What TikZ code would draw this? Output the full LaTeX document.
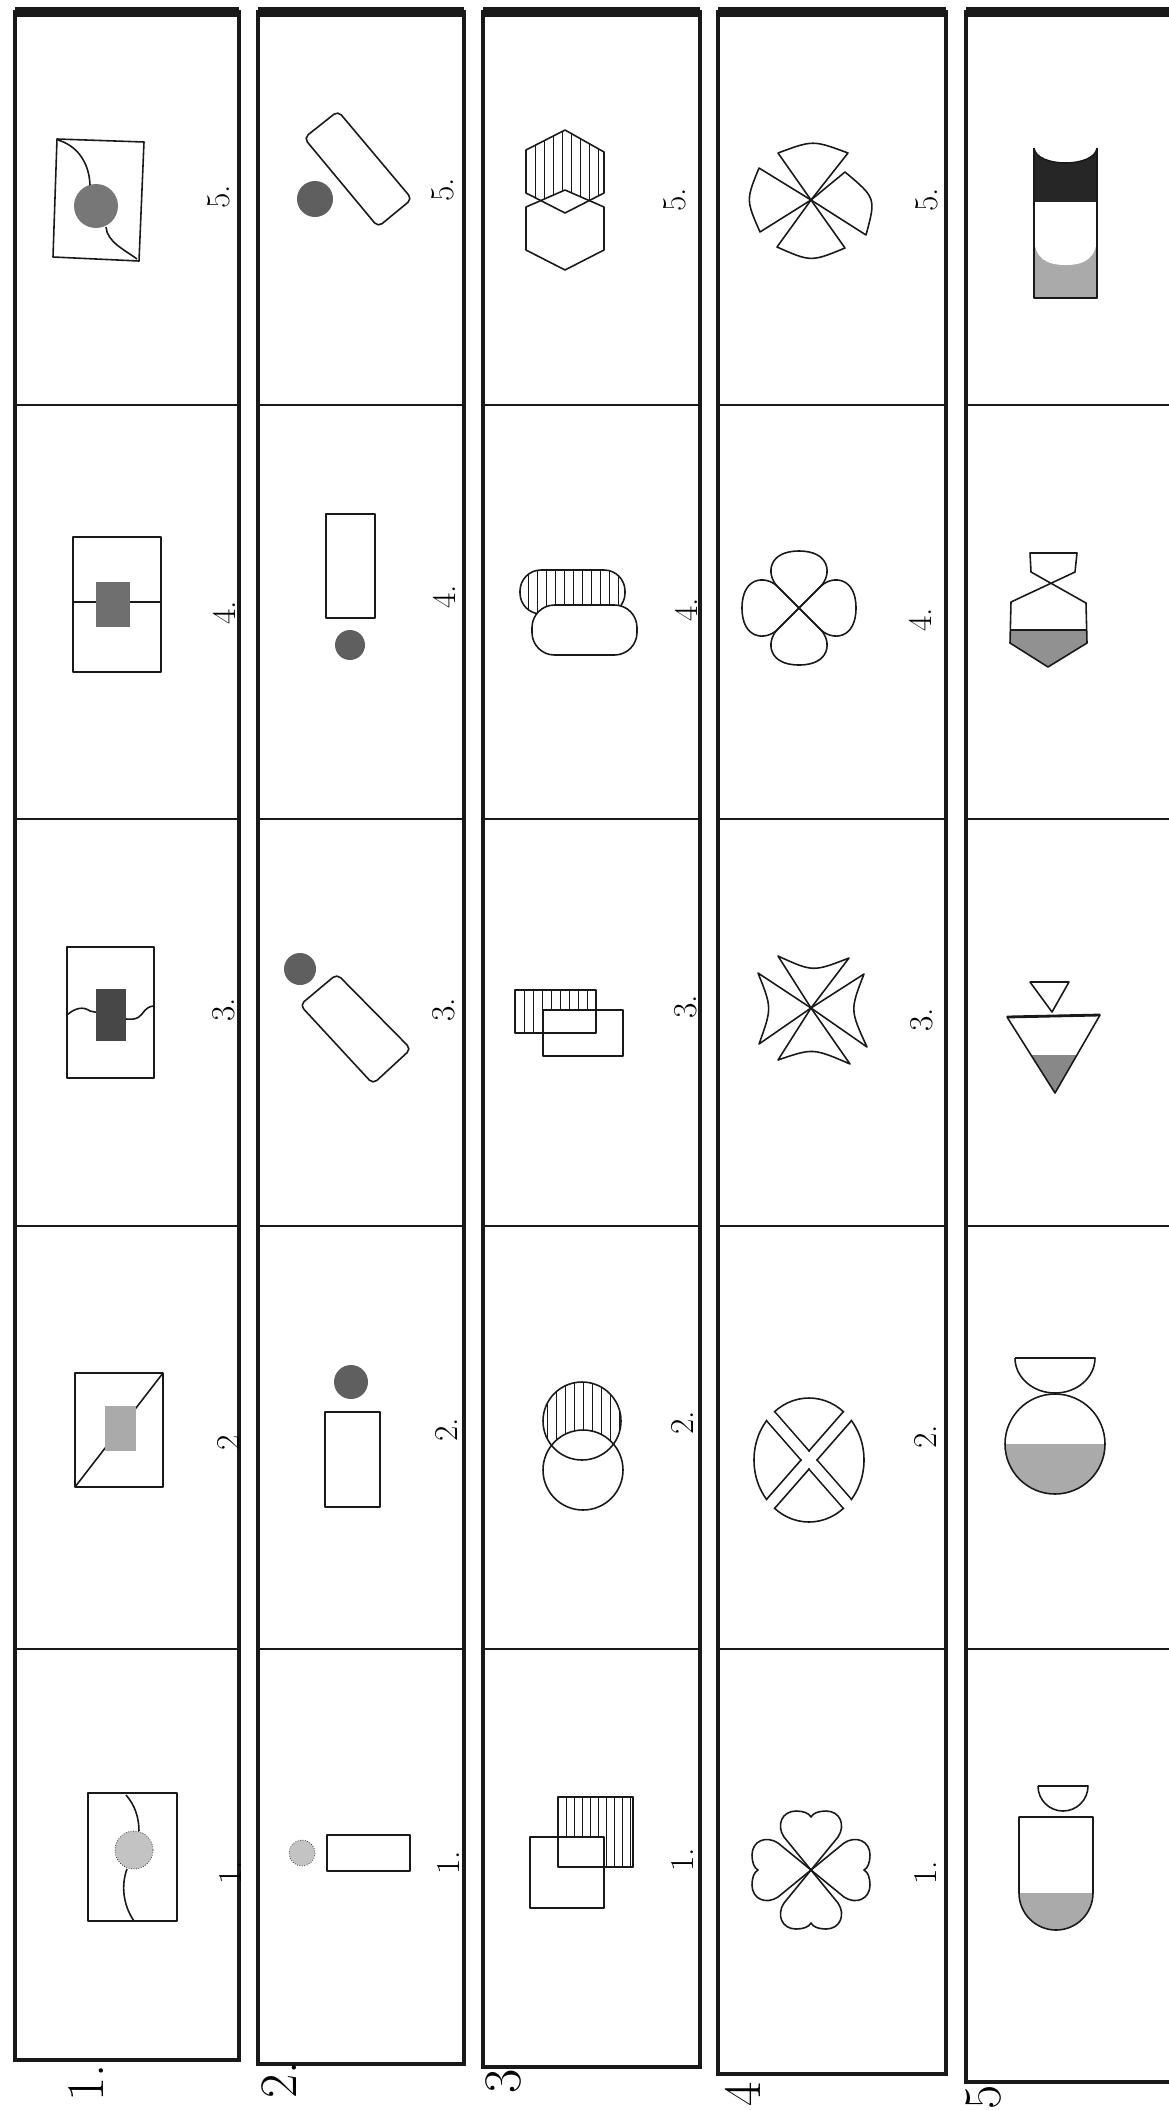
\documentclass[tikz,border=0pt]{standalone}
\usepackage{tikz}
\definecolor{tinta}{RGB}{25,25,25}
\definecolor{grano}{RGB}{170,170,170}
\definecolor{oscuro}{RGB}{95,95,95}

\begin{document}
\begin{tikzpicture}[x=0.02cm, y=-0.02cm,
        marco/.style={draw=tinta, line width=2.8pt},
        techo/.style={draw=tinta, line width=5.5pt},
        divisor/.style={draw=tinta, line width=1.6pt},
        figura/.style={draw=tinta, line width=0.9pt, line join=round},
        rayado/.style={draw=tinta, line width=0.5pt},
        numero/.style={rotate=90, inner sep=0pt, font=\fontsize{19}{22}\selectfont},
        fila/.style={rotate=90, inner sep=0pt, font=\fontsize{30}{34}\selectfont}
    ]
    \useasboundingbox (0,0) rectangle (1169,2110);
    \clip (0,0) rectangle (1169,2110);

    % Tiras y casillas
    \foreach \xa/\xb/\yb in {15/239/2060, 258/464/2064, 483/700/2067, 718/946/2074, 966/1195/2082} {
        \draw[marco] (\xa,12) rectangle (\xb,\yb);
        \draw[techo] (\xa,12) -- (\xb,12);
        \foreach \yd in {405,819,1226,1649}
            \draw[divisor] (\xa,\yd) -- (\xb,\yd);
    }

    % Numeros de las casillas
    \foreach \t/\x/\y [count=\i] in {5./219/197, 4./224/613, 3./224/1010, 2/228/1443, 1./230/1873}
        \node (a\i) [numero] at (\x,\y) {\t};
    \foreach \t/\x/\y [count=\i] in {5./443/190, 4./444/597, 3./444/1010, 2./446/1430, 1./448/1863}
        \node (b\i) [numero] at (\x,\y) {\t};
    \foreach \t/\x/\y [count=\i] in {5./675/200, 4./686/610, 3./686/1007, 2./682/1423, 1./682/1860}
        \node (c\i) [numero] at (\x,\y) {\t};
    \foreach \t/\x/\y [count=\i] in {5./927/200, 4./920/620, 3./922/1020, 2./925/1437, 1./925/1873}
        \node (d\i) [numero] at (\x,\y) {\t};

    % Numeros de las filas
    \node (fila1) [fila] at (86,2083) {1.};
    \node (fila2) [fila] at (279,2080) {2.};
    \node (fila3) [fila] at (503,2081) {3};
    \node (fila4) [fila] at (743,2094) {4};
    \node (fila5) [fila] at (984,2097) {5};

    % Tira 1
    \draw[figura] (57,139) -- (144,142) -- (139,261) -- (53,257) -- cycle;
    \fill[oscuro!85] (96,206) circle (22);
    \draw[figura] (58,140) .. controls (75,145) and (89,160) .. (90,185);
    \draw[figura] (106,227) .. controls (107,242) and (125,250) .. (137,259);

    \draw[figura] (73,537) rectangle (161,672);
    \draw[figura] (73,602) -- (161,602);
    \fill[oscuro!90] (96,582) rectangle (130,627);

    \draw[figura] (67,947) rectangle (154,1078);
    \draw[figura] (67,1015) .. controls (75,1008) and (83,1006) .. (90,1011) -- (100,1013);
    \draw[figura] (120,1018) .. controls (130,1020) and (138,1020) .. (142,1014) .. controls (146,1008) and (150,1006) .. (154,1006);
    \fill[oscuro!75!black] (96,989) rectangle (126,1041);

    \draw[figura] (75,1373) rectangle (163,1487);
    \draw[figura] (75,1487) -- (163,1373);
    \fill[grano] (105,1406) rectangle (136,1451);

    \draw[figura] (88,1793) rectangle (177,1921);
    \filldraw[fill=grano!70, draw=tinta, line width=0.4pt, densely dotted] (134,1850) circle (19);
    \draw[figura] (126,1795) .. controls (135,1805) and (139,1818) .. (139,1831);
    \draw[figura] (127,1869) .. controls (121,1885) and (123,1905) .. (134,1921);

    % Tira 2
    \draw[figura, rounded corners=3pt] (338,111) -- (412,199) -- (378,227) -- (304,138) -- cycle;
    \fill[oscuro] (315,199) circle (18);

    \draw[figura] (326,514) rectangle (375,618);
    \fill[oscuro] (350,645) circle (15);

    \fill[oscuro] (300,969) circle (16);
    \draw[figura, rounded corners=3pt] (337,974) -- (411,1049) -- (373,1084) -- (300,1005) -- cycle;

    \fill[oscuro] (351,1382) circle (17);
    \draw[figura] (325,1412) rectangle (380,1507);

    \filldraw[fill=grano!70, draw=tinta, line width=0.4pt, densely dotted] (302,1853) circle (13);
    \draw[figura] (327,1835) rectangle (410,1871);

    % Tira 3
    \begin{scope}
        \clip (565,130) -- (604,152) -- (604,193) -- (565,213) -- (526,193) -- (526,150) -- cycle;
        \foreach \x in {526,535,...,604} \draw[rayado] (\x,120) -- (\x,220);
    \end{scope}
    \filldraw[figura, fill=white] (565,190) -- (604,207) -- (604,250) -- (565,270) -- (526,250) -- (526,207) -- cycle;
    \draw[figura] (565,130) -- (604,152) -- (604,193) -- (565,213) -- (526,193) -- (526,150) -- cycle;

    \begin{scope}
        \clip[rounded corners=0.42cm] (520,570) rectangle (625,614);
        \foreach \x in {528,537,...,622} \draw[rayado] (\x,560) -- (\x,620);
    \end{scope}
    \draw[figura, rounded corners=0.42cm] (520,570) rectangle (625,614);
    \filldraw[figura, fill=white, rounded corners=0.45cm] (532,605) rectangle (637,655);

    \begin{scope}
        \clip (515,990) rectangle (596,1033);
        \foreach \x in {515,524,...,596} \draw[rayado] (\x,985) -- (\x,1040);
    \end{scope}
    \fill[white] (543,1010) rectangle (623,1056);
    \draw[figura] (515,990) rectangle (596,1033);
    \draw[figura] (543,1010) rectangle (623,1056);

    \begin{scope}
        \clip (582,1421) circle (39);
        \foreach \x in {547,556,...,620} \draw[rayado] (\x,1378) -- (\x,1462);
    \end{scope}
    \fill[white] (583,1470) circle (40);
    \draw[figura] (582,1421) circle (39);
    \draw[figura] (583,1470) circle (40);

    \begin{scope}
        \clip (558,1797) rectangle (633,1867);
        \foreach \x in {558,566,...,633} \draw[rayado] (\x,1790) -- (\x,1870);
    \end{scope}
    \fill[white] (530,1837) rectangle (604,1908);
    \draw[figura] (558,1797) rectangle (633,1867);
    \draw[figura] (530,1837) rectangle (604,1908);

    % Tira 4
    \draw[figura] (811,200) -- (778,153) .. controls (813,140) .. (848,153) -- cycle;
    \draw[figura] (811,200) -- (845,172) .. controls (876,198) .. (866,235) -- cycle;
    \draw[figura] (811,200) -- (845,248) .. controls (811,262) .. (777,247) -- cycle;
    \draw[figura] (811,200) -- (760,232) .. controls (746,200) .. (759,168) -- cycle;

    \foreach \a in {0,90,180,270}
        \draw[figura, rotate around={\a:(799,608)}] (799,608) -- (777,586) .. controls (766,574) and (768,551) .. (799,551) .. controls (830,551) and (832,574) .. (821,586) -- cycle;

    \draw[figura] (811,1008) -- (778,956) .. controls (813,972) .. (849,958) -- cycle;
    \draw[figura] (811,1008) -- (864,974) .. controls (850,1010) .. (867,1047) -- cycle;
    \draw[figura] (811,1008) -- (850,1064) .. controls (813,1048) .. (778,1060) -- cycle;
    \draw[figura] (811,1008) -- (759,1044) .. controls (772,1008) .. (758,973) -- cycle;

    \draw[figura] (809,1460) ellipse (55 and 62);
    \draw[white, line width=0.2cm] (753,1396) -- (865,1524);
    \draw[white, line width=0.2cm] (865,1396) -- (753,1524);
    \begin{scope}
        \clip (809,1460) ellipse (55 and 62);
        \draw[figura] (767.5,1403.5) -- (859.5,1508.5);
        \draw[figura] (758.5,1411.5) -- (850.5,1516.5);
        \draw[white, line width=0.2cm] (865,1396) -- (753,1524);
        \draw[figura] (859.5,1411.5) -- (767.5,1516.5);
        \draw[figura] (850.5,1403.5) -- (758.5,1508.5);
        \draw[white, line width=0.2cm] (753,1396) -- (865,1524);
    \end{scope}

    \foreach \a in {0,90,180,270}
        \draw[figura, rotate around={\a:(811,1870)}] (811,1870) -- (784,1837) .. controls (776,1825) and (782,1811) .. (796,1811) .. controls (803,1811) and (809,1813) .. (811,1817) .. controls (813,1813) and (819,1811) .. (826,1811) .. controls (840,1811) and (846,1825) .. (838,1837) -- cycle;

    % Tira 5
    \fill[grano] (1034,230) rectangle (1097,298);
    \fill[black!85] (1034,148) .. controls (1036,168) and (1095,168) .. (1097,148) -- (1097,202) -- (1034,202) -- cycle;
    \fill[white] (1034,202) -- (1034,236) .. controls (1034,258) and (1046,265) .. (1065.5,265) .. controls (1085,265) and (1097,258) .. (1097,236) -- (1097,202) -- cycle;
    \draw[figura] (1034,148) -- (1034,298) -- (1097,298) -- (1097,148);
    \draw[figura] (1034,148) .. controls (1036,168) and (1095,168) .. (1097,148);

    \fill[grano!85!black] (1010,630) -- (1010,643) -- (1048,667) -- (1087,643) -- (1087,630) -- cycle;
    \draw[figura] (1031,572) -- (1030,553) -- (1077,553) -- (1075,572) -- (1011,602) -- (1010,643) -- (1048,667) -- (1087,643) -- (1086,603) -- cycle;
    \draw[figura] (1010,630) -- (1087,630);

    \draw[figura] (1030,982) -- (1069,982) -- (1052,1012) -- cycle;
    \fill[grano!80!black] (1031,1055) -- (1077,1055) -- (1055,1093) -- cycle;
    \draw[figura] (1007,1017) -- (1100,1015) -- (1055,1093) -- cycle;
    \draw[figura, line width=1.6pt] (1007,1017) -- (1100,1015);

    \draw[figura] (1015,1358) -- (1095,1358) arc[start angle=0, end angle=180, x radius=40, y radius=35];
    \fill[grano] (1105,1444) arc[start angle=0, end angle=180, radius=50] -- cycle;
    \draw[figura] (1055,1444) circle (50);

    \draw[figura] (1038,1786) -- (1088,1786) arc[start angle=0, end angle=180, radius=25];
    \fill[grano] (1093,1893) arc[start angle=0, end angle=180, radius=37] -- cycle;
    \draw[figura] (1019,1817) -- (1093,1817) -- (1093,1893) arc[start angle=0, end angle=180, radius=37] -- cycle;
\end{tikzpicture}
\end{document}
